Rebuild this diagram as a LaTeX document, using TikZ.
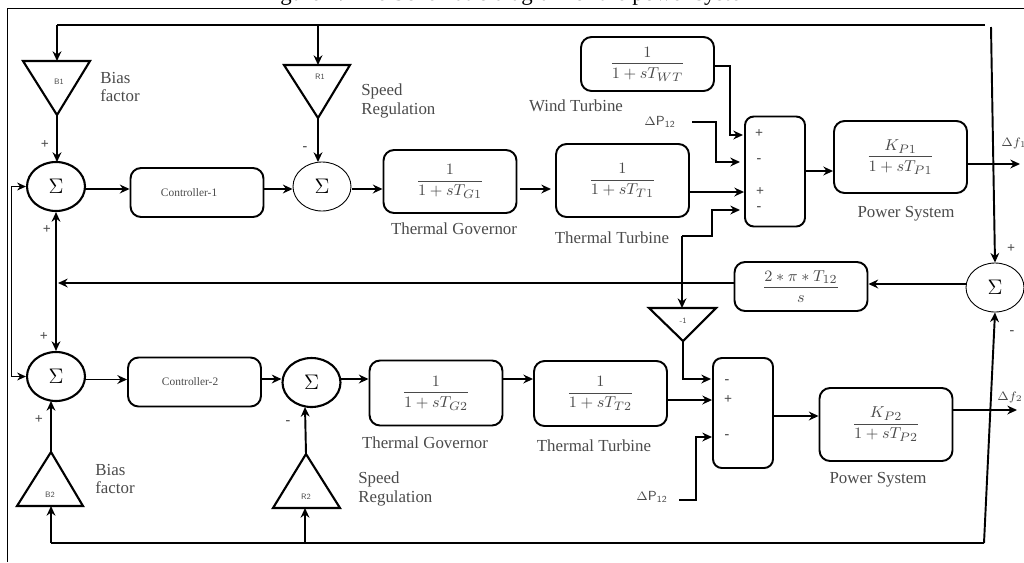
\documentclass[tikz,border=0pt]{standalone}
\usepackage{amsmath}
\usepackage{fontspec}
\setmainfont{Liberation Serif}
\usetikzlibrary{arrows.meta,shapes.geometric}
\definecolor{inkgray}{HTML}{4A4A4A}
\tikzset{
  blockbox/.style={draw, line width=1.1pt, rounded corners=6pt, minimum width=2.66cm, inner sep=0pt, text=inkgray},
  summer/.style={draw, ellipse, line width=1.2pt, minimum width=1.16cm, minimum height=0.98cm, inner sep=0pt},
  mixer/.style={draw, line width=1.1pt, rounded corners=5pt, minimum width=1.2cm, minimum height=2.2cm, inner sep=0pt},
  gain/.style={draw, line width=1.2pt, line join=miter},
  wire/.style={line width=1.1pt, -{Stealth[length=5.5pt,width=5pt]}},
  plainwire/.style={line width=1.1pt},
  caption/.style={font=\fontsize{9.6}{10.5}\selectfont, text=inkgray, inner sep=0pt},
  sign/.style={font=\fontsize{8}{9}\selectfont\bfseries, text=inkgray, inner sep=0pt},
  tiny label/.style={font=\fontsize{4.5}{5}\selectfont\sffamily, text=inkgray, inner sep=0pt},
}
\newcommand{\blockfrac}[3][0pt]{\raisebox{#1}{\fontsize{9.3}{11}\selectfont$\dfrac{#2}{#3}$}}
\begin{document}
\begin{tikzpicture}[x=0.02cm, y=-0.02cm]
  \useasboundingbox (0,0) rectangle (1024,562);

  % title and frame
  \node[font=\fontsize{13}{15}\selectfont, anchor=base] (title) at (510,0) {Figure 1. The Schematic diagram of the power system};
  \coordinate (frameTL) at (7.5,8.5);
  \coordinate (frameTR) at (1024,8.5);
  \coordinate (frameBL) at (7.5,562);
  \draw[line width=0.7pt] (frameBL) -- (frameTL) -- (frameTR);

  % upper area
  \node[summer] (sum1) at (56,186.5) {\large$\Sigma$};
  \node[summer, line width=0.5pt] (sum2) at (322,186.5) {\large$\Sigma$};
  \node[blockbox, minimum height=0.98cm] (ctrl1) at (197,192.5) {\hspace*{-9pt}\fontsize{6.5}{8}\selectfont Controller-1};
  \node[blockbox, minimum height=1.26cm] (gov1) at (450,181.5) {\blockfrac{1}{1+sT_{G1}}};
  \node[blockbox, minimum height=1.46cm] (turb1) at (622.5,180.5) {\blockfrac[6pt]{1}{1+sT_{T1}}};
  \node[blockbox, minimum height=1.08cm] (wind) at (647.5,64) {\blockfrac{1}{1+sT_{WT}}};
  \node[mixer] (mix1) at (775,171.5) {};
  \node[blockbox, minimum height=1.44cm] (plant1) at (900.5,157) {\blockfrac[6pt]{K_{P1}}{1+sT_{P1}}};
  \node[blockbox, minimum height=0.98cm] (tie) at (801,286.5) {\blockfrac{2*\pi*T_{12}}{s}};
  \node[summer, line width=0.5pt] (sum3) at (995,287.5) {\large$\Sigma$};

  % lower area
  \node[summer] (sum4) at (56,376.5) {\large$\Sigma$};
  \node[summer] (sum5) at (311.5,382.5) {\large$\Sigma$};
  \node[blockbox, minimum height=0.98cm] (ctrl2) at (194.5,382) {\hspace*{-5pt}\fontsize{6.5}{8}\selectfont Controller-2};
  \node[blockbox, minimum height=1.3cm] (gov2) at (436,393) {\blockfrac[3pt]{1}{1+sT_{G2}}};
  \node[blockbox, minimum height=1.3cm] (turb2) at (600.5,393.5) {\blockfrac[3pt]{1}{1+sT_{T2}}};
  \node[mixer] (mix2) at (743,413) {};
  \node[blockbox, minimum height=1.46cm] (plant2) at (886,424.5) {\blockfrac[6pt]{K_{P2}}{1+sT_{P2}}};

  % gain triangles
  \draw[gain] (23,61) -- (90,61) -- (57,115) coordinate (b1) -- cycle;
  \draw[gain] (284,65) -- (350,65) -- (318,118) coordinate (r1) -- cycle;
  \draw[gain] (649,308) -- (716,308) -- (683,341) coordinate (neg) -- cycle;
  \draw[gain] (17,506) -- (83,506) -- (51,452) coordinate (b2) -- cycle;
  \draw[gain] (273,508) -- (340,508) -- (306,454) coordinate (r2) -- cycle;
  \node[tiny label] (b1text) at (59,82) {B1};
  \node[tiny label] (r1text) at (320,77) {R1};
  \node[tiny label] (negtext) at (683,321) {-1};
  \node[tiny label] (b2text) at (50,495) {B2};
  \node[tiny label] (r2text) at (306,497) {R2};

  % free ends of the lines
  \coordinate (topL) at (57,25);
  \coordinate (topM) at (318,25);
  \coordinate (topR) at (985,25);
  \coordinate (botL) at (51,543);
  \coordinate (botM) at (305,543);
  \coordinate (botR) at (984,543);

  % feedback lines
  \draw[plainwire] (topR) -- (topL);
  \draw[wire] (topL) -- (57,61);
  \draw[wire] (topM) -- (318,65);
  \draw[wire] (991,27) -- (sum3.north);
  \draw[wire] (botL) -- (51,506);
  \draw[wire] (botM) -- (305,508);
  \draw[plainwire] (botL) -- (botR);
  \draw[wire] (botR) -- (sum3.south);
  \draw[wire] (b1) -- (57,162);
  \draw[wire] (r1) -- (318,162);
  \draw[wire] (b2) -- (51,401);
  \draw[wire] (r2) -- (305,407);
  \draw[wire, {Stealth[length=5.5pt,width=5pt]}-{Stealth[length=5.5pt,width=5pt]}] (sum1.south) -- (sum4.north);
  \draw[line width=0.8pt, {Stealth[length=5pt,width=4.5pt]}-{Stealth[length=5pt,width=4.5pt]}] (sum1.west) -- (11.5,186.5) -- (11.5,376.5) -- (sum4.west);
  \draw[wire] (tie.west |- 0,283) -- (58,283);
  \draw[wire] (sum3.west |- 0,284) -- (tie.east |- 0,284);

  % upper row
  \draw[wire] (85,189) -- (ctrl1.west |- 0,189);
  \draw[wire] (ctrl1.east |- 0,189) -- (sum2.west |- 0,189);
  \draw[wire] (352,189) -- (gov1.west |- 0,189);
  \draw[wire] (520,189) -- (551,189);
  \draw[wire] (turb1.east |- 0,192) -- (mix1.west |- 0,192);
  \draw[wire] (wind.east |- 0,66) -- (730,66) -- (730,135) -- (743,135);
  \draw[wire] (692,122) -- (716,122) -- (716,162) -- (740,162);
  \draw[wire] (682,236) -- (712,236) -- (712,210) -- (740,210);
  \draw[wire] (682,236) -- (682,308);
  \draw[wire] (mix1.east |- 0,171) -- (plant1.west |- 0,171);
  \draw[wire] (plant1.east |- 0,164) -- (1020,164);

  % lower row
  \draw[wire] (85,379.5) -- (ctrl2.west |- 0,379.5);
  \draw[wire] (ctrl2.east |- 0,379) -- (sum5.west |- 0,379);
  \draw[wire] (340,379) -- (gov2.west |- 0,379);
  \draw[wire] (gov2.east |- 0,379) -- (turb2.west |- 0,379);
  \draw[wire] (neg) -- (683,379) -- (711,379);
  \draw[wire] (turb2.east |- 0,400) -- (mix2.west |- 0,400);
  \draw[wire] (679,500) -- (696,500) -- (696,437) -- (712,437);
  \draw[wire] (mix2.east |- 0,416) -- (plant2.west |- 0,416);
  \draw[wire] (plant2.east |- 0,410) -- (1017,410);

  % captions
  \node[caption, align=left, anchor=west] (bias1) at (100,87) {Bias\\factor};
  \node[caption, align=left, anchor=west] (speed1) at (361,101) {Speed\\Regulation};
  \node[caption] (govcap1) at (454,229) {Thermal Governor};
  \node[caption] (turbcap1) at (612,238) {Thermal Turbine};
  \node[caption] (windcap) at (576,106) {Wind Turbine};
  \node[caption] (plantcap1) at (906,214) {Power System};
  \node[caption, align=left, anchor=west] (bias2) at (95,479) {Bias\\factor};
  \node[caption, align=left, anchor=west] (speed2) at (358,489) {Speed\\Regulation};
  \node[caption] (govcap2) at (425,443) {Thermal Governor};
  \node[caption] (turbcap2) at (594,446) {Thermal Turbine};
  \node[caption] (plantcap2) at (878,480) {Power System};
  \node[caption, font=\fontsize{7.5}{9}\sffamily] (dp1) at (660,122) {$\Delta$P\textsubscript{12}};
  \node[caption, font=\fontsize{7.5}{9}\sffamily] (dp2) at (652,497) {$\Delta$P\textsubscript{12}};
  \node[caption] (df1) at (1014,143) {\fontsize{7}{8}\selectfont$\Delta f_1$};
  \node[caption] (df2) at (1010,397) {\fontsize{7}{8}\selectfont$\Delta f_2$};

  % signs
  \foreach \xx/\yy/\txt [count=\i] in {45/145/+, 305/149/-, 47/230/+, 44/337/+, 39/420/+, 288/423/-, 759/134/+, 759/161/-, 760/192/+, 759/209/-, 727/382/-, 728/400/+, 727/437/-, 1011/249/+, 1012/333/-}
    \node[sign] (sign\i) at (\xx,\yy) {\txt};
\end{tikzpicture}
\end{document}
